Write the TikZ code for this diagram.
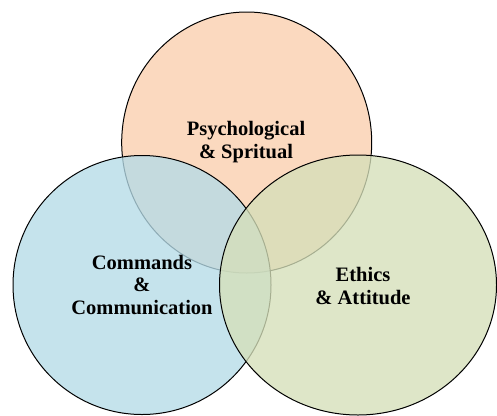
\documentclass[tikz,border=0pt]{standalone}
\usepackage{fontspec}
\setmainfont{Liberation Serif}
\definecolor{peach}{RGB}{251,217,191}
\definecolor{lblue}{RGB}{181,219,231}
\definecolor{lgreen}{RGB}{213,223,185}
\begin{document}
\begin{tikzpicture}[x=1pt,y=-1pt,
  venn/.style={draw=black, line width=1pt, fill opacity=0.78},
  lab/.style={font=\bfseries\fontsize{20.5}{22.5}\selectfont, align=center, inner sep=0pt}]
\useasboundingbox (0,0) rectangle (497,415);
\clip (0,0) rectangle (497,415);
\draw[venn, fill=peach, fill opacity=1] (246.7,142.5) ellipse [x radius=125, y radius=130.5];
\draw[venn, fill=lblue] (142,285) ellipse [x radius=129, y radius=129.5];
\draw[venn, fill=lgreen] (358,285) ellipse [x radius=138.5, y radius=130];
\node[lab] (psy) at (246,142) {Psychological\\\& Spritual};
\node[lab] (com) at (142,285) {Commands\\\&\\Communication};
\node[lab] (eth) at (363,286) {Ethics\\\& Attitude};
\end{tikzpicture}
\end{document}
